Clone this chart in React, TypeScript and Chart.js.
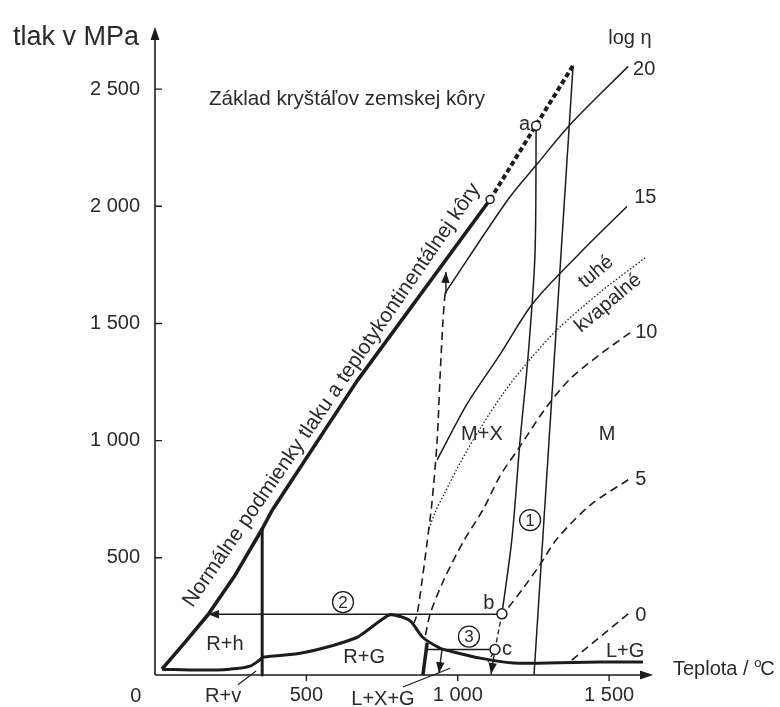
import React, { useEffect, useRef } from 'react';
import { Chart, registerables } from 'chart.js';

Chart.register(...registerables);

// ---- axes ----
const X_MAX = 1645; // °C at arrow tip
const Y_MAX = 2765; // MPa at arrow tip
const xTickValues = [500, 1000, 1500];
const yTickValues = [500, 1000, 1500, 2000, 2500];

// ---- curves (T in °C, P in MPa) ----
// normal continental crust P-T line (thick)
const crustT = [23, 99, 175, 264, 354, 387, 667, 1107];
const crustP = [25, 139, 257, 425, 623, 703, 1254, 2029];
// thick dotted extension up to base of crust
const crustExtT = [1107, 1381];
const crustExtP = [2029, 2601];
// R+h | R+G vertical boundary
const rhT = [354, 354];
const rhP = [623, 0];
// R+v boundary at the bottom
const rvT = [23, 149, 248, 314, 354];
const rvP = [25, 21, 25, 38, 72];
// solidus hump R+G and L+G
const rgT = [354, 479, 588, 667, 687, 753, 776, 800, 843, 885, 942, 965, 1074, 1183, 1295, 1470, 1612];
const rgP = [76, 93, 126, 160, 177, 240, 257, 253, 231, 160, 114, 105, 72, 51, 51, 55, 55];
// short thick segment L+X+G
const lxgT = [899, 885];
const lxgP = [138, 0];
// dashed boundary M+X (left)
const dashAT = [958, 951, 942, 932, 915, 899, 882, 866, 856];
const dashAP = [1629, 1507, 1284, 1002, 737, 568, 400, 261, 223];
// viscosity isolines log η
const eta20T = [958, 1166, 1262, 1371, 1563];
const eta20P = [1629, 2029, 2180, 2348, 2597];
const eta15T = [1559, 1404, 1249, 1140, 1031, 932];
const eta15P = [1999, 1801, 1587, 1368, 1157, 918];
const eta10T = [1569, 1470, 1371, 1289, 1206, 1140, 1084, 1018, 952, 909, 892];
const eta10P = [1460, 1368, 1263, 1136, 976, 850, 707, 568, 400, 261, 160];
const eta5T = [1563, 1437, 1328, 1272, 1216, 1160];
const eta5P = [833, 724, 581, 471, 370, 275];
const eta5lowT = [1146, 1123, 1100];
const eta5lowP = [261, 109, 55];
const eta0T = [1563, 1365];
const eta0P = [261, 51];
// solid / liquid (dotted)
const solidLiquidT = [1619, 1470, 1328, 1239, 1156, 1074, 1008, 958, 925, 905];
const solidLiquidP = [1780, 1633, 1473, 1347, 1212, 1052, 905, 779, 694, 623];
// path 1 lines
const path1LeftT = [1259, 1255, 1232, 1206, 1179, 1146];
const path1LeftP = [2344, 1789, 1355, 1002, 581, 261];
const path1RightT = [1381, 1252];
const path1RightP = [2601, 0];
// arrows
const arrowCT = [1123, 1110];
const arrowCP = [109, 4];
const arrow2T = [1146, 175];
const arrow2P = [259, 259];
const line3T = [1123, 895];
const line3P = [109, 109];
const arrow3T = [948, 938];
const arrow3P = [109, 8];
const arrowTopT = [958, 961];
const arrowTopP = [1629, 1720];
// leader lines of labels
const leaderLXGT = [819, 975];
const leaderLXGP = [-51, 29];
const leaderRVT = [274, 334];
const leaderRVP = [-42, 17];
// marked points (circle, a, b, c)
const markT = [1107, 1259, 1146, 1123];
const markP = [2029, 2344, 261, 109];
const markR = [4, 4.5, 5, 5];

// ---- text annotations ----
const labels = [
  { text: 'Základ kryštáľov zemskej kôry', t: 178, p: 2433, align: 'left', size: 20.6 },
  { text: 'log η', t: 1497, p: 2694, align: 'left', size: 20 },
  { text: '20', t: 1579, p: 2559, align: 'left' },
  { text: '15', t: 1583, p: 2012, align: 'left' },
  { text: '10', t: 1586, p: 1439, align: 'left' },
  { text: '5', t: 1586, p: 812, align: 'left' },
  { text: '0', t: 1586, p: 231, align: 'left' },
  { text: 'a', t: 1239, p: 2327, align: 'right' },
  { text: 'b', t: 1084, p: 282, align: 'left' },
  { text: 'c', t: 1146, p: 84, align: 'left' },
  { text: 'M+X', t: 1080, p: 1002, align: 'center' },
  { text: 'M', t: 1493, p: 1002, align: 'center' },
  { text: 'L+G', t: 1553, p: 76, align: 'center' },
  { text: 'R+G', t: 691, p: 51, align: 'center' },
  { text: 'R+h', t: 231, p: 105, align: 'center' },
  { text: 'R+v', t: 225, p: -114, align: 'center' },
  { text: 'L+X+G', t: 753, p: -126, align: 'center' },
  { text: '0', t: -63, p: -114, align: 'center' },
  { text: 'tlak v MPa', t: -469, p: 2689, align: 'left', size: 27 },
];
const rotatedLabels = [
  { text: 'Normálne podmienky tlaku a teplotykontinentálnej kôry', t: 600, p: 1180, rot: -55.5, size: 21 },
  { text: 'tuhé', t: 1457, p: 1720, rot: -40, size: 20 },
  { text: 'kvapalné', t: 1497, p: 1587, rot: -40, size: 20 },
];
const circled = [
  { text: '1', t: 1239, p: 661 },
  { text: '2', t: 621, p: 311 },
  { text: '3', t: 1037, p: 164 },
];
const xTitle = { t: 1711, p: 0 };

const FONT = '"Liberation Sans", Arial, Helvetica, sans-serif';
const INK = '#1c1c1c';
const TEXT = '#2a2a2a';

const pts = (T: number[], P: number[]) => T.map((t, i) => ({ x: t, y: P[i] }));
const line = (T: number[], P: number[], width: number, dash: number[] = [], tension = 0) => ({
  type: 'scatter' as const,
  data: pts(T, P),
  showLine: true,
  borderColor: INK,
  borderWidth: width,
  borderDash: dash,
  pointRadius: 0,
  pointHoverRadius: 0,
  tension,
  fill: false,
  order: 1,
  borderCapStyle: 'butt',
  borderJoinStyle: 'round',
  clip: 6,
});

function head(ctx: CanvasRenderingContext2D, x1: number, y1: number, x2: number, y2: number, len = 11, w = 4.2) {
  const a = Math.atan2(y2 - y1, x2 - x1);
  const c = Math.cos(a), s = Math.sin(a);
  ctx.beginPath();
  ctx.moveTo(x2, y2);
  ctx.lineTo(x2 - len * c + w * s, y2 - len * s - w * c);
  ctx.lineTo(x2 - len * c - w * s, y2 - len * s + w * c);
  ctx.closePath();
  ctx.fill();
}

const diagramPlugin = {
  id: 'diagram',
  beforeDatasetsDraw(chart: any) {
    const { ctx, chartArea: ca, scales } = chart;
    const x = scales.x, y = scales.y;
    ctx.save();
    ctx.strokeStyle = INK;
    ctx.fillStyle = INK;
    ctx.lineWidth = 1.6;
    ctx.beginPath();
    ctx.moveTo(ca.left, ca.bottom);
    ctx.lineTo(ca.left, ca.top + 8);
    ctx.moveTo(ca.left, ca.bottom);
    ctx.lineTo(ca.right - 8, ca.bottom);
    ctx.stroke();
    head(ctx, ca.left, ca.bottom, ca.left, ca.top, 13, 4.5);
    head(ctx, ca.left, ca.bottom, ca.right, ca.bottom, 13, 4.5);
    ctx.lineWidth = 1.4;
    ctx.beginPath();
    y.ticks.forEach((tk: any) => {
      const yy = y.getPixelForValue(tk.value);
      ctx.moveTo(ca.left, yy);
      ctx.lineTo(ca.left + 7, yy);
    });
    x.ticks.forEach((tk: any) => {
      const xx = x.getPixelForValue(tk.value);
      ctx.moveTo(xx, ca.bottom);
      ctx.lineTo(xx, ca.bottom + 6);
    });
    ctx.stroke();
    ctx.restore();
  },
  afterDatasetsDraw(chart: any) {
    const { ctx, scales } = chart;
    const px = (t: number) => scales.x.getPixelForValue(t);
    const py = (p: number) => scales.y.getPixelForValue(p);
    ctx.save();
    ctx.fillStyle = INK;
    ctx.strokeStyle = INK;
    // arrowheads
    const arrowEnds: [number[], number[]][] = [
      [arrowCT, arrowCP],
      [arrow2T, arrow2P],
      [arrow3T, arrow3P],
      [arrowTopT, arrowTopP],
    ];
    arrowEnds.forEach(([T, P]) => {
      const n = T.length;
      head(ctx, px(T[n - 2]), py(P[n - 2]), px(T[n - 1]), py(P[n - 1]), 11, 4.2);
    });
    // leader lines
    ctx.lineWidth = 1.2;
    [[leaderLXGT, leaderLXGP], [leaderRVT, leaderRVP]].forEach(([T, P]) => {
      ctx.beginPath();
      ctx.moveTo(px(T[0]), py(P[0]));
      ctx.lineTo(px(T[1]), py(P[1]));
      ctx.stroke();
    });
    // labels
    ctx.fillStyle = TEXT;
    labels.forEach((l: any) => {
      ctx.font = `${l.size || 20}px ${FONT}`;
      ctx.textAlign = l.align;
      ctx.textBaseline = 'alphabetic';
      ctx.fillText(l.text, px(l.t), py(l.p));
    });
    rotatedLabels.forEach((l) => {
      ctx.save();
      ctx.translate(px(l.t), py(l.p));
      ctx.rotate((l.rot * Math.PI) / 180);
      ctx.font = `${l.size}px ${FONT}`;
      ctx.textAlign = 'center';
      ctx.textBaseline = l.text.length > 20 ? 'alphabetic' : 'middle';
      ctx.fillText(l.text, 0, 0);
      ctx.restore();
    });
    // x axis title with superscript degree
    {
      let xx = px(xTitle.t);
      const yy = py(xTitle.p);
      ctx.textAlign = 'left';
      ctx.textBaseline = 'alphabetic';
      ctx.font = `20px ${FONT}`;
      const a = 'Teplota / ';
      ctx.fillText(a, xx, yy);
      xx += ctx.measureText(a).width;
      ctx.font = `13px ${FONT}`;
      ctx.fillText('o', xx, yy - 8);
      xx += ctx.measureText('o').width - 1;
      ctx.font = `20px ${FONT}`;
      ctx.fillText('C', xx, yy);
    }
    // circled numbers
    circled.forEach((c) => {
      const cx = px(c.t), cy = py(c.p);
      ctx.lineWidth = 1.3;
      ctx.beginPath();
      ctx.arc(cx, cy, 10.5, 0, Math.PI * 2);
      ctx.stroke();
      ctx.font = `17px ${FONT}`;
      ctx.textAlign = 'center';
      ctx.textBaseline = 'middle';
      ctx.fillText(c.text, cx, cy + 1);
    });
    ctx.restore();
  },
};

const fmt = (v: number) =>
  v >= 1000 ? `${Math.floor(v / 1000)} ${String(v % 1000).padStart(3, '0')}` : String(v);

export default function App() {
  const ref = useRef<HTMLCanvasElement>(null);
  useEffect(() => {
    document.body.style.margin = '0';
    const canvas = ref.current;
    if (!canvas) return;
    const datasets: any[] = [
      {
        type: 'scatter',
        data: pts(markT, markP),
        showLine: false,
        pointRadius: markR,
        pointBackgroundColor: '#ffffff',
        pointBorderColor: INK,
        pointBorderWidth: 1.5,
        order: -1,
        clip: false,
      },
      line(crustT, crustP, 3.6),
      line(crustExtT, crustExtP, 4, [5, 3]),
      line(rhT, rhP, 3),
      line(rvT, rvP, 3, [], 0.3),
      line(rgT, rgP, 3, [], 0.3),
      line(lxgT, lxgP, 3.5),
      line(dashAT, dashAP, 1.6, [8, 5], 0.3),
      line(eta20T, eta20P, 1.5, [], 0.3),
      line(eta15T, eta15P, 1.5, [], 0.3),
      line(eta10T, eta10P, 1.6, [8, 5], 0.3),
      line(eta5T, eta5P, 1.6, [8, 5], 0.3),
      line(eta5lowT, eta5lowP, 1.3, [5, 3]),
      line(eta0T, eta0P, 1.6, [8, 5]),
      line(solidLiquidT, solidLiquidP, 1.3, [1.5, 2], 0.3),
      line(path1LeftT, path1LeftP, 1.5, [], 0.3),
      line(path1RightT, path1RightP, 1.5),
      line(arrowCT, arrowCP, 1.4),
      line(arrow2T, arrow2P, 1.4),
      line(line3T, line3P, 1.4),
      line(arrow3T, arrow3P, 1.4),
      line(arrowTopT, arrowTopP, 1.4),
    ];
    const chart = new Chart(canvas, {
      type: 'scatter',
      data: { datasets },
      plugins: [diagramPlugin as any],
      options: {
        animation: false,
        responsive: false,
        devicePixelRatio: 1,
        events: [],
        layout: { padding: { left: 0, top: 18, right: 127, bottom: 0 } },
        plugins: { legend: { display: false }, tooltip: { enabled: false } },
        scales: {
          x: {
            type: 'linear',
            min: 0,
            max: X_MAX,
            grid: { display: false, drawTicks: false },
            border: { display: false },
            ticks: {
              font: { family: FONT, size: 20 },
              color: TEXT,
              padding: 8,
              maxRotation: 0,
              autoSkip: false,
              callback: (v: any) => fmt(Number(v)),
            },
            afterBuildTicks: (s: any) => {
              s.ticks = xTickValues.map((v) => ({ value: v }));
            },
            afterFit: (s: any) => {
              s.height = 32;
            },
          },
          y: {
            type: 'linear',
            min: 0,
            max: Y_MAX,
            grid: { display: false, drawTicks: false },
            border: { display: false },
            ticks: {
              font: { family: FONT, size: 20 },
              color: TEXT,
              padding: 15,
              autoSkip: false,
              callback: (v: any) => fmt(Number(v)),
            },
            afterBuildTicks: (s: any) => {
              s.ticks = yTickValues.map((v) => ({ value: v }));
            },
            afterFit: (s: any) => {
              s.width = 155;
            },
          },
        },
      } as any,
    });
    return () => chart.destroy();
  }, []);
  return (
    <div style={{ position: 'absolute', left: 0, top: 0, width: 780, height: 707, background: '#fff' }}>
      <canvas ref={ref} width={780} height={707} style={{ width: 780, height: 707, display: 'block' }} />
    </div>
  );
}
